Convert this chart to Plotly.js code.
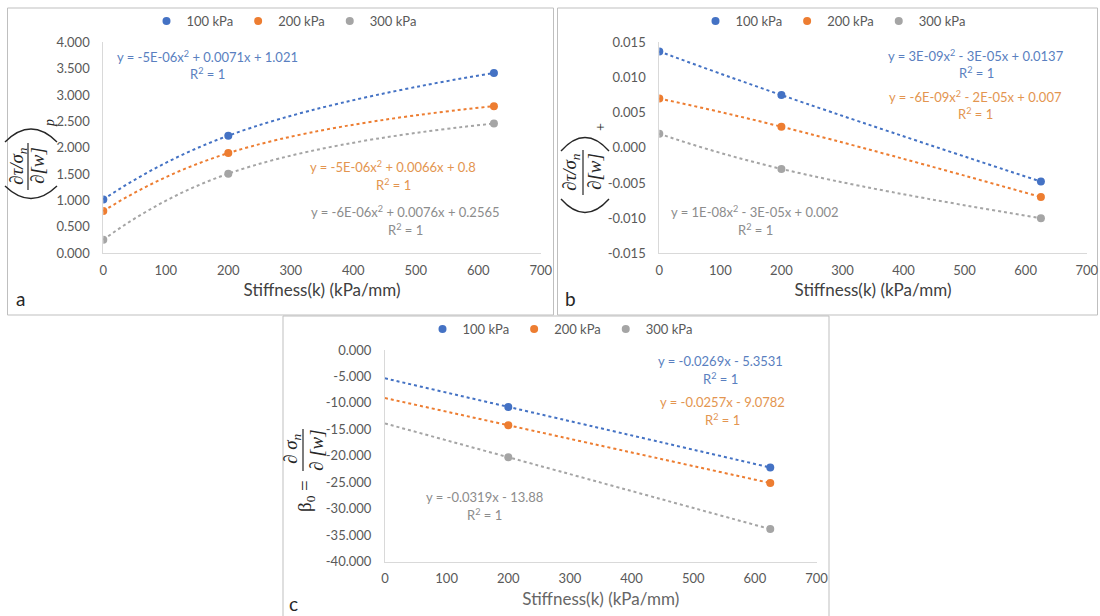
<!DOCTYPE html>
<html>
<head>
<meta charset="utf-8">
<script src="https://cdn.plot.ly/plotly-3.0.1.min.js"></script>
<style>html,body{margin:0;padding:0;background:#fff;}#chart{width:1100px;height:616px;}</style>
</head>
<body>
<div id="chart"></div>
<script>
// ---------------- DATA ----------------
const seriesNames = ['100 kPa', '200 kPa', '300 kPa'];
const stiffness = [0, 200, 625];            // panels a and b
const stiffnessC = [200, 625];              // panel c points
const trendXC = [0, 200, 625];              // panel c trendline extent

const aY100 = [1.021, 2.23, 3.42];
const aY200 = [0.80, 1.90, 2.79];
const aY300 = [0.2565, 1.51, 2.46];

const bY100 = [0.0137, 0.0075, -0.0048];
const bY200 = [0.0070, 0.0030, -0.0070];
const bY300 = [0.0020, -0.0030, -0.0100];

const cY100 = [-10.75, -22.20];
const cY200 = [-14.22, -25.14];
const cY300 = [-20.26, -33.84];
const cIntercept = [-5.3531, -9.0782, -13.88];   // trendline values at k = 0

const xTicks = [0, 100, 200, 300, 400, 500, 600, 700];
const aTicks = [0, 0.5, 1, 1.5, 2, 2.5, 3, 3.5, 4];
const aTickText = ['0.000', '0.500', '1.000', '1.500', '2.000', '2.500', '3.000', '3.500', '4.000'];
const bTicks = [-0.015, -0.01, -0.005, 0, 0.005, 0.01, 0.015];
const bTickText = ['-0.015', '-0.010', '-0.005', '0.000', '0.005', '0.010', '0.015'];
const cTicks = [-40, -35, -30, -25, -20, -15, -10, -5, 0];
const cTickText = ['-40.000', '-35.000', '-30.000', '-25.000', '-20.000', '-15.000', '-10.000', '-5.000', '0.000'];

const aEq = ['y = -5E-06x<sup>2</sup> + 0.0071x + 1.021', 'y = -5E-06x<sup>2</sup> + 0.0066x + 0.8', 'y = -6E-06x<sup>2</sup> + 0.0076x + 0.2565'];
const bEq = ['y = 3E-09x<sup>2</sup> - 3E-05x + 0.0137', 'y = -6E-09x<sup>2</sup> - 2E-05x + 0.007', 'y = 1E-08x<sup>2</sup> - 3E-05x + 0.002'];
const cEq = ['y = -0.0269x - 5.3531', 'y = -0.0257x - 9.0782', 'y = -0.0319x - 13.88'];
const r2Text = 'R<sup>2</sup> = 1';
const xTitle = 'Stiffness(k) (kPa/mm)';
const panelLabels = ['a', 'b', 'c'];

// ---------------- STYLE / LAYOUT ----------------
const W = 1100, H = 616;
const FONT = 'Lato, "Open Sans", sans-serif';
const MATH = '"Liberation Serif", "DejaVu Serif", serif';
const colors = ['#4472C4', '#ED7D31', '#A5A5A5'];
const eqColors = ['#5a7fc0', '#e39550', '#8c8c8c'];
const px = x => x / W;
const py = y => 1 - y / H;

const traces = [];
function addPanel(xs, ysList, trendXs, trendYsList, xa, ya, legendName) {
  trendYsList.forEach((ty, i) => {
    traces.push({
      x: trendXs, y: ty, xaxis: xa, yaxis: ya, mode: 'lines', showlegend: false, hoverinfo: 'skip',
      line: {color: colors[i], width: 2, dash: 'dot', shape: 'spline', smoothing: 1.3}
    });
  });
  ysList.forEach((ys, i) => {
    traces.push({
      x: xs, y: ys, xaxis: xa, yaxis: ya, mode: 'markers', name: seriesNames[i], legend: legendName,
      marker: {color: colors[i], size: 8}
    });
  });
}
addPanel(stiffness, [aY100, aY200, aY300], stiffness, [aY100, aY200, aY300], 'x', 'y', 'legend');
addPanel(stiffness, [bY100, bY200, bY300], stiffness, [bY100, bY200, bY300], 'x2', 'y2', 'legend2');
addPanel(stiffnessC, [cY100, cY200, cY300], trendXC,
  [[cIntercept[0]].concat(cY100), [cIntercept[1]].concat(cY200), [cIntercept[2]].concat(cY300)], 'x3', 'y3', 'legend3');

const tickFont = {family: FONT, size: 13, color: '#595959'};
function xAxis(d0, d1, anchor, titleColor) {
  return {
    domain: [px(d0), px(d1)], anchor: anchor, range: [0, 700], tickvals: xTicks,
    showline: true, linecolor: '#d9d9d9', linewidth: 1, showgrid: false, zeroline: false,
    ticks: '', tickfont: tickFont, ticklabelstandoff: 5, fixedrange: true,
    title: {text: xTitle, font: {family: FONT, size: 17, color: titleColor}, standoff: 7}
  };
}
function yAxis(top, bottom, anchor, range, vals, text) {
  return {
    domain: [py(bottom), py(top)], anchor: anchor, range: range, tickvals: vals, ticktext: text,
    showline: true, linecolor: '#d9d9d9', linewidth: 1, showgrid: false, zeroline: false,
    ticks: '', tickfont: tickFont, ticklabelstandoff: 10, fixedrange: true
  };
}
function legendAt(cx, cy) {
  return {x: px(cx), y: py(cy), xanchor: 'center', yanchor: 'middle', orientation: 'h',
    font: {family: FONT, size: 13, color: '#595959'}, bgcolor: 'rgba(0,0,0,0)', itemwidth: 30,
    traceorder: 'normal'};
}

const annotations = [];
function ann(x, y, text, font, extra) {
  annotations.push(Object.assign({xref: 'paper', yref: 'paper', x: px(x), y: py(y), text: text,
    showarrow: false, xanchor: 'center', yanchor: 'middle', font: font}, extra || {}));
}
// equations
const eqFont = i => ({family: FONT, size: 13, color: eqColors[i]});
const aEqPos = [[207, 56], [393, 167], [405, 212]];
const bEqPos = [[976, 55], [975, 96], [755, 212]];
const cEqPos = [[721, 361], [722, 402], [484, 497]];
[[aEq, aEqPos], [bEq, bEqPos], [cEq, cEqPos]].forEach(([eqs, pos]) => {
  eqs.forEach((t, i) => {
    ann(pos[i][0], pos[i][1], t, eqFont(i));
    ann(pos[i][0], pos[i][1] + 17.5, r2Text, eqFont(i));
  });
});
// panel labels
const labelFont = {family: FONT, size: 19, color: '#262626'};
ann(20, 298, panelLabels[0], labelFont);
ann(570, 298, panelLabels[1], labelFont);
ann(293, 603, panelLabels[2], labelFont);

// y-axis titles (math, rotated)
const mathFont = {family: MATH, size: 19, color: '#262626'};
const rot = {textangle: -90};
// panel a
ann(18, 166, '<i>∂τ/σ<sub>n</sub></i>', mathFont, rot);
ann(38, 166, '<i>∂[w]</i>', mathFont, rot);
ann(49, 123, '<i>p</i>', {family: MATH, size: 14, color: '#262626'}, rot);
// panel b
ann(571, 172, '<i>∂τ/σ<sub>n</sub></i>', mathFont, rot);
ann(594, 172, '<i>∂[w]</i>', mathFont, rot);
ann(600, 127, '+', {family: MATH, size: 14, color: '#262626'}, rot);
// panel c
ann(292, 449, '<i>∂ σ<sub>n</sub></i>', mathFont, rot);
ann(316, 450, '<i>∂ [w]</i>', mathFont, rot);
ann(306, 496, 'β<sub>0</sub> =', mathFont, rot);

// shapes: borders, fraction bars, parentheses
const shapes = [];
function rect(x0, y0, x1, y1) {
  shapes.push({type: 'rect', xref: 'paper', yref: 'paper', x0: px(x0), x1: px(x1), y0: py(y1), y1: py(y0),
    line: {color: '#bfbfbf', width: 1}, fillcolor: 'rgba(0,0,0,0)', layer: 'below'});
}
rect(7.5, 8, 553.5, 315);
rect(557.5, 8, 1097.5, 315);
rect(283, 316, 829, 630);
function vline(x, y0, y1) {
  shapes.push({type: 'line', xref: 'paper', yref: 'paper', x0: px(x), x1: px(x), y0: py(y0), y1: py(y1),
    line: {color: '#262626', width: 1.2}});
}
vline(28, 143, 190);
vline(583, 150, 195);
vline(303, 429, 471);
function arc(x1, y1, cx, cy, x2, y2) {
  shapes.push({type: 'path', xref: 'paper', yref: 'paper',
    path: `M ${px(x1)} ${py(y1)} Q ${px(cx)} ${py(cy)} ${px(x2)} ${py(y2)}`,
    line: {color: '#262626', width: 1.4}});
}
arc(5, 142, 31, 116, 57, 142);
arc(5, 186, 31, 211, 57, 186);
arc(561, 151, 585, 124, 609, 151);
arc(561, 199, 585, 226, 609, 199);

const layout = {
  width: W, height: H, autosize: false,
  margin: {l: 0, r: 0, t: 0, b: 0},
  paper_bgcolor: '#ffffff', plot_bgcolor: 'rgba(0,0,0,0)',
  font: {family: FONT, color: '#595959'},
  showlegend: true,
  xaxis: xAxis(103.3, 540.8, 'y', '#404040'),
  yaxis: yAxis(42.3, 253.3, 'x', [0, 4], aTicks, aTickText),
  xaxis2: xAxis(659.3, 1086.7, 'y2', '#404040'),
  yaxis2: yAxis(42.3, 253.3, 'x2', [-0.015, 0.015], bTicks, bTickText),
  xaxis3: xAxis(385, 816.5, 'y3', '#666666'),
  yaxis3: yAxis(350, 561.7, 'x3', [-40, 0], cTicks, cTickText),
  legend: legendAt(284, 21),
  legend2: legendAt(833, 21),
  legend3: legendAt(560, 329),
  annotations: annotations,
  shapes: shapes
};

Plotly.newPlot('chart', traces, layout, {displayModeBar: false, staticPlot: true});
</script>
</body>
</html>
